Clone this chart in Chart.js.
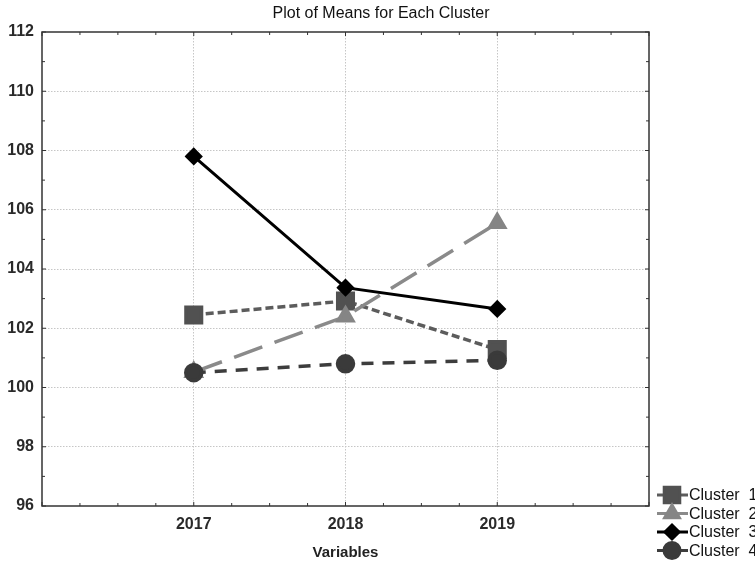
<!DOCTYPE html>
<html>
<head>
<meta charset="utf-8">
<script src="https://cdn.jsdelivr.net/npm/chart.js@4.4.1/dist/chart.umd.min.js"></script>
<style>
  html, body { margin: 0; padding: 0; background: #fff; }
  #wrap { width: 755px; height: 562px; }
</style>
</head>
<body>
<div id="wrap"><canvas id="meansChart"></canvas></div>
<script>
// data
const years = [2017, 2018, 2019];
const cluster1 = [102.45, 102.92, 101.28];
const cluster2 = [100.52, 102.40, 105.55];
const cluster3 = [107.80, 103.37, 102.65];
const cluster4 = [100.50, 100.80, 100.92];
const clusterNames = ['Cluster  1', 'Cluster  2', 'Cluster  3', 'Cluster  4'];
const yTicks = [96, 98, 100, 102, 104, 106, 108, 110, 112];

const FONT = '"Liberation Sans", Arial, sans-serif';

function toPoints(values) {
  return years.map((yr, i) => ({ x: yr, y: values[i] }));
}

// border box + small inward ticks + title + legend
const framePlugin = {
  id: 'frame',
  afterDraw(chart) {
    const ctx = chart.ctx;
    const a = chart.chartArea;
    const xs = chart.scales.x, ys = chart.scales.y;
    ctx.save();
    ctx.strokeStyle = '#333';
    ctx.lineWidth = 1.5;
    ctx.strokeRect(a.left, a.top, a.right - a.left, a.bottom - a.top);

    ctx.lineWidth = 1;
    ctx.beginPath();
    for (let v = xs.min; v <= xs.max + 1e-9; v += 0.25) {
      const px = xs.getPixelForValue(v);
      const len = Math.abs(v - Math.round(v)) < 1e-9 ? 4 : 3;
      ctx.moveTo(px, a.bottom); ctx.lineTo(px, a.bottom - len);
      ctx.moveTo(px, a.top); ctx.lineTo(px, a.top + len);
    }
    for (let v = ys.min; v <= ys.max; v += 1) {
      const py = ys.getPixelForValue(v);
      const len = v % 2 === 0 ? 4 : 3;
      ctx.moveTo(a.left, py); ctx.lineTo(a.left + len, py);
      ctx.moveTo(a.right, py); ctx.lineTo(a.right - len, py);
    }
    ctx.stroke();

    // title
    ctx.fillStyle = '#111';
    ctx.font = '16px ' + FONT;
    ctx.textAlign = 'center';
    ctx.textBaseline = 'middle';
    ctx.fillText('Plot of Means for Each Cluster', 381, 14);

    // legend
    ctx.textAlign = 'left';
    chart.data.datasets.forEach((ds, i) => {
      const y = 495 + i * 18.5;
      ctx.strokeStyle = ds.borderColor;
      ctx.lineWidth = 3;
      ctx.setLineDash([]);
      ctx.beginPath();
      ctx.moveTo(657, y); ctx.lineTo(688, y);
      ctx.stroke();
      ctx.fillStyle = ds.pointBackgroundColor;
      ctx.strokeStyle = ds.pointBackgroundColor;
      Chart.helpers.drawPoint(ctx, {
        pointStyle: ds.pointStyle,
        radius: ds.pointRadius,
        borderWidth: 1
      }, 672, y);
      ctx.fillStyle = '#111';
      ctx.font = '16px ' + FONT;
      ctx.fillText(ds.label, 689, y + 1);
    });
    ctx.restore();
  }
};

const ctx = document.getElementById('meansChart');
new Chart(ctx, {
  type: 'line',
  data: {
    datasets: [
      {
        label: clusterNames[0],
        data: toPoints(cluster1),
        borderColor: '#5c5c5c',
        borderWidth: 3.5,
        borderDash: [8, 4],
        pointStyle: 'rect',
        pointRadius: 11,
        pointBackgroundColor: '#515151',
        pointBorderColor: '#515151',
        order: 3
      },
      {
        label: clusterNames[1],
        data: toPoints(cluster2),
        borderColor: '#8a8a8a',
        borderWidth: 3.5,
        borderDash: [30, 13],
        pointStyle: 'triangle',
        pointRadius: 8.5,
        pointBackgroundColor: '#858585',
        pointBorderColor: '#858585',
        order: 2
      },
      {
        label: clusterNames[2],
        data: toPoints(cluster3),
        borderColor: '#000000',
        borderWidth: 3,
        pointStyle: 'rectRot',
        pointRadius: 7,
        pointBackgroundColor: '#000000',
        pointBorderColor: '#000000',
        order: 1
      },
      {
        label: clusterNames[3],
        data: toPoints(cluster4),
        borderColor: '#3d3d3d',
        borderWidth: 3.5,
        borderDash: [12, 9],
        pointStyle: 'circle',
        pointRadius: 8,
        pointBackgroundColor: '#3a3a3a',
        pointBorderColor: '#3a3a3a',
        order: 0
      }
    ]
  },
  options: {
    responsive: true,
    maintainAspectRatio: false,
    animation: false,
    layout: { padding: { top: 32, right: 106, left: 0, bottom: 0 } },
    plugins: {
      legend: { display: false },
      title: { display: false },
      tooltip: { enabled: false }
    },
    scales: {
      x: {
        type: 'linear',
        min: years[0] - 1,
        max: years[years.length - 1] + 1,
        afterBuildTicks(scale) {
          scale.ticks = [years[0] - 1].concat(years, [years[years.length - 1] + 1]).map(v => ({ value: v }));
        },
        afterFit(scale) { scale.height = 56; },
        ticks: {
          padding: 9,
          color: '#2a2a2a',
          font: { family: FONT, size: 16, weight: 'bold' },
          callback: v => (years.includes(v) ? String(v) : '')
        },
        grid: {
          drawTicks: false,
          color: c => (c.tick && years.includes(c.tick.value) ? '#c6c6c6' : 'rgba(0,0,0,0)'),
          lineWidth: 1
        },
        border: { display: false, dash: [1.5, 1.5] },
        title: {
          display: true,
          text: 'Variables',
          color: '#222',
          font: { family: FONT, size: 15, weight: 'bold' },
          padding: { top: 8, bottom: 0 }
        }
      },
      y: {
        min: yTicks[0],
        max: yTicks[yTicks.length - 1],
        afterBuildTicks(scale) {
          scale.ticks = yTicks.map(v => ({ value: v }));
        },
        afterFit(scale) { scale.width = 42; },
        ticks: {
          padding: 8,
          color: '#2a2a2a',
          font: { family: FONT, size: 16, weight: 'bold' }
        },
        grid: {
          drawTicks: false,
          color: c => (c.tick && c.tick.value > yTicks[0] && c.tick.value < yTicks[yTicks.length - 1] ? '#c6c6c6' : 'rgba(0,0,0,0)'),
          lineWidth: 1
        },
        border: { display: false, dash: [1.5, 1.5] }
      }
    }
  },
  plugins: [framePlugin]
});
</script>
</body>
</html>
